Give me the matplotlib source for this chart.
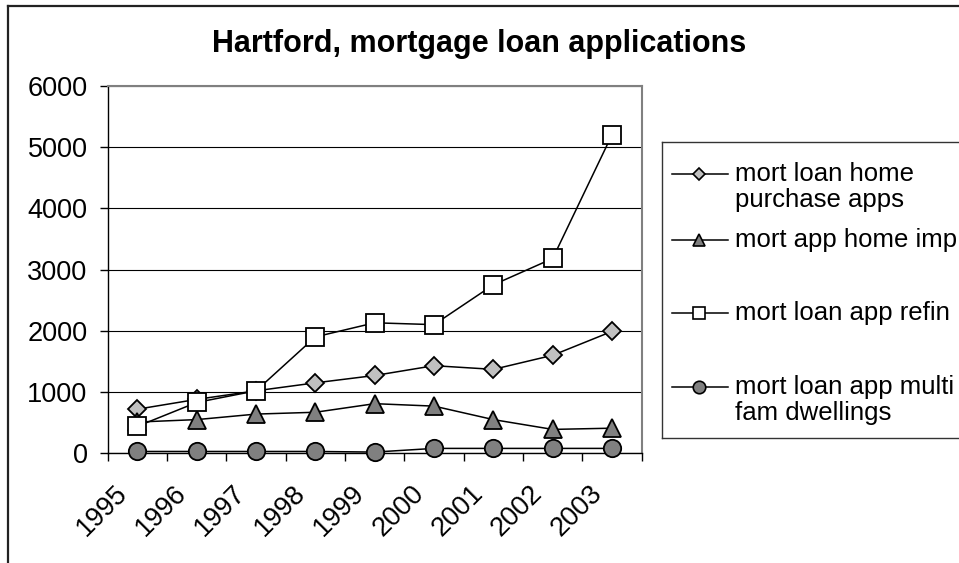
import matplotlib
matplotlib.use("Agg")
import matplotlib.pyplot as plt
from matplotlib.lines import Line2D
from matplotlib.transforms import ScaledTranslation

plt.rcParams['font.family'] = ['Liberation Sans', 'DejaVu Sans']

years = ['1995', '1996', '1997', '1998', '1999', '2000', '2001', '2002', '2003']
home_purchase = [720, 880, 1020, 1150, 1270, 1430, 1370, 1600, 1990]
home_imp = [510, 550, 640, 670, 810, 770, 550, 390, 410]
refin = [440, 830, 1020, 1900, 2130, 2100, 2750, 3180, 5200]
multi_fam = [30, 30, 30, 30, 20, 80, 80, 80, 80]

series_labels = ['mort loan home\npurchase apps', 'mort app home imp',
                 'mort loan app refin', 'mort loan app multi\nfam dwellings']
series_data = [home_purchase, home_imp, refin, multi_fam]
markers = ['D', '^', 's', 'o']
fills = ['#C0C0C0', '#808080', '#FFFFFF', '#808080']
msizes = [9, 12.5, 12.5, 12.5]
leg_msizes = [6.5, 8.5, 8.5, 9]

W, H = 959, 563
fig = plt.figure(figsize=(W / 100, H / 100), dpi=100)

# plot area, placed in pixel terms
px_l, px_r, px_t, px_b = 107.7, 641.7, 85.7, 453.3
ax = fig.add_axes([px_l / W, 1 - px_b / H, (px_r - px_l) / W, (px_b - px_t) / H])

x = list(range(len(years)))
for vals, m, fc, ms in zip(series_data, markers, fills, msizes):
    ax.plot(x, vals, color='black', lw=1.1, marker=m, markersize=ms,
            markerfacecolor=fc, markeredgecolor='black', markeredgewidth=1.3,
            zorder=3, clip_on=False)

ax.set_xlim(-0.5, len(years) - 0.5)
ax.set_ylim(0, 6000)
ax.set_yticks(range(0, 6001, 1000))
ax.yaxis.grid(True, color='black', lw=0.8)
ax.set_axisbelow(True)

for side in ['top', 'right']:
    ax.spines[side].set_color('#808080')
    ax.spines[side].set_linewidth(1.5)
ax.spines['left'].set_linewidth(1.0)
ax.spines['bottom'].set_linewidth(1.0)

ax.tick_params(axis='y', length=6, width=1, pad=8.5, labelsize=19.5)
ax.set_xticks([i - 0.5 for i in range(len(years) + 1)], minor=True)
ax.tick_params(axis='x', which='minor', length=6, width=1, direction='out')
ax.set_xticks(x)
ax.set_xticklabels(years, rotation=45, ha='right', va='center',
                   rotation_mode='anchor', fontsize=19.5)
ax.tick_params(axis='x', which='major', length=0, pad=26)
shift = ScaledTranslation(-14 / 100, 0, fig.dpi_scale_trans)
for lab in ax.get_xticklabels():
    lab.set_transform(lab.get_transform() + shift)

fig.text(0.5, 1 - 44 / H, 'Hartford, mortgage loan applications',
         ha='center', va='center', fontsize=22, fontweight='bold')

# legend box drawn by hand
lg_l, lg_t, lg_b, lg_r = 661.7, 141.7, 437.7, 975
lax = fig.add_axes([lg_l / W, 1 - lg_b / H, (lg_r - lg_l) / W, (lg_b - lg_t) / H])
lax.set_xlim(lg_l, lg_r)
lax.set_ylim(lg_b, lg_t)
lax.set_xticks([])
lax.set_yticks([])
for sp in lax.spines.values():
    sp.set_linewidth(1.0)
    sp.set_color('#333333')
entry_y = [174, 240, 313, 387]
for lbl, m, fc, ms, yy in zip(series_labels, markers, fills, leg_msizes, entry_y):
    lax.plot([672, 728], [yy, yy], color='black', lw=1.1)
    lax.plot([699], [yy], marker=m, markersize=ms, markerfacecolor=fc,
             markeredgecolor='black', markeredgewidth=1.2)
    lax.text(735, yy - 12, lbl, ha='left', va='top', fontsize=18.5,
             linespacing=1.08)

# outer chart frame
fig.add_artist(Line2D([7.5 / W, 7.5 / W], [0, 1 - 6 / H], color='#222222',
                      lw=1.6, transform=fig.transFigure))
fig.add_artist(Line2D([7.5 / W, 1], [1 - 6 / H, 1 - 6 / H], color='#222222',
                      lw=1.6, transform=fig.transFigure))

fig.savefig('out.png', dpi=100)
